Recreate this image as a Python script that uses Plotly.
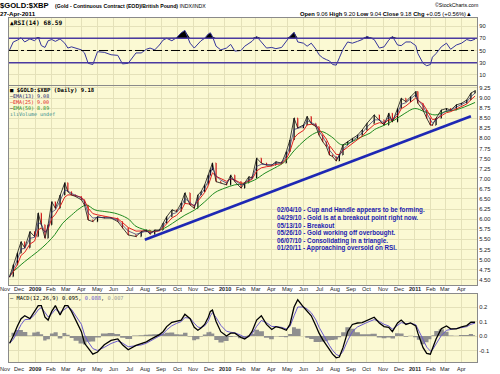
import plotly.graph_objects as go
import pandas as pd
import numpy as np

# ---------------- data ----------------
dates = ["2008-11-13","2008-11-20","2008-11-28","2008-12-05","2008-12-12","2008-12-22","2008-12-31",
         "2009-01-07","2009-01-13","2009-01-20","2009-01-26","2009-02-02","2009-02-09","2009-02-18","2009-02-27",
         "2009-03-05","2009-03-12","2009-03-20","2009-03-31","2009-04-06","2009-04-13","2009-04-22","2009-05-01",
         "2009-05-14","2009-05-27","2009-06-09","2009-06-18","2009-06-29","2009-07-14","2009-07-24","2009-08-03",
         "2009-08-10","2009-08-19","2009-08-28","2009-09-04","2009-09-11","2009-09-21","2009-09-30","2009-10-09",
         "2009-10-16","2009-10-26","2009-11-03","2009-11-10","2009-11-16","2009-11-23","2009-11-30","2009-12-04",
         "2009-12-08","2009-12-15","2009-12-24","2010-01-04","2010-01-12","2010-01-20","2010-02-01","2010-02-08",
         "2010-02-16","2010-02-22","2010-03-03","2010-03-12","2010-03-22","2010-04-01","2010-04-09","2010-04-20",
         "2010-04-29","2010-05-06","2010-05-14","2010-05-21","2010-06-01","2010-06-08","2010-06-16","2010-06-25",
         "2010-07-01","2010-07-08","2010-07-15","2010-07-21","2010-07-27","2010-08-03","2010-08-09","2010-08-16",
         "2010-08-25","2010-09-03","2010-09-13","2010-09-22","2010-10-01","2010-10-15","2010-10-25","2010-11-03",
         "2010-11-12","2010-11-19","2010-11-29","2010-12-06","2010-12-15","2010-12-24","2011-01-03","2011-01-07",
         "2011-01-17","2011-01-24","2011-01-31","2011-02-04","2011-02-11","2011-02-21","2011-03-03","2011-03-11",
         "2011-03-22","2011-04-01","2011-04-11","2011-04-19","2011-04-27"]

close = [4.58,4.87,5.16,5.44,5.29,5.69,5.57,
         6.15,5.86,5.53,5.86,6.43,6.27,6.60,6.90,
         6.68,6.60,6.56,6.48,6.35,5.98,5.94,6.06,
         6.03,6.03,5.94,5.78,5.61,5.57,5.69,5.73,
         5.63,5.73,5.73,5.90,6.06,6.23,6.19,6.40,
         6.65,6.35,6.27,6.60,6.68,6.85,7.09,7.22,
         7.39,6.93,6.90,6.85,7.09,6.93,6.77,6.90,
         7.05,7.02,7.51,7.39,7.34,7.34,7.42,7.39,
         7.67,7.96,8.50,8.26,8.33,8.54,8.37,8.29,
         8.08,7.92,7.80,7.59,7.55,7.44,7.59,7.84,
         7.92,8.00,8.08,8.21,8.37,8.58,8.46,8.33,
         8.62,8.41,8.74,8.99,8.91,9.03,9.16,8.87,
         8.70,8.50,8.33,8.33,8.50,8.70,8.74,8.70,
         8.83,8.87,8.95,9.12,9.18]

rsi = [51,64,67,71,64,69,66,
       72,58,55,66,68,65,69,62,
       54,56,54,51,46,29,27,48,
       47,43,42,28,29,46,46,52,
       54,51,59,67,70,66,71,79,
       83,62,54,60,66,70,77,79,
       73,57,51,54,60,49,50,57,
       61,65,73,64,54,55,53,55,
       66,73,80,64,62,57,62,52,
       43,38,35,33,27,26,38,52,
       64,62,65,68,73,68,54,56,
       67,73,59,58,64,64,58,45,
       29,25,27,39,45,56,62,52,
       59,62,68,66,68.59]

macd = [-0.05,0.00,0.07,0.12,0.14,0.12,0.17,
        0.21,0.21,0.13,0.11,0.17,0.21,0.145,0.21,
        0.21,0.17,0.11,0.03,-0.05,-0.08,-0.125,-0.11,
        -0.06,-0.03,-0.02,-0.06,-0.095,-0.065,-0.055,-0.04,
        -0.025,-0.01,0.01,0.03,0.065,0.095,0.10,0.11,
        0.15,0.12,0.06,0.04,0.055,0.08,0.13,0.17,
        0.18,0.10,0.03,0.00,0.02,0.02,-0.01,-0.02,
        0.00,0.03,0.11,0.14,0.08,0.045,0.065,0.055,
        0.04,0.08,0.20,0.25,0.20,0.175,0.14,0.07,
        0.02,-0.025,-0.065,-0.095,-0.125,-0.15,-0.145,-0.08,
        0.03,0.08,0.09,0.092,0.105,0.13,0.09,0.065,
        0.06,0.03,0.09,0.11,0.08,0.09,0.07,0.02,
        -0.08,-0.12,-0.125,-0.09,-0.02,0.05,0.07,0.05,
        0.05,0.063,0.072,0.095,0.095]

ema50_dates = ["2008-11-13","2008-12-12","2009-01-06","2009-01-25","2009-02-08","2009-02-23","2009-03-12",
               "2009-03-28","2009-04-10","2009-04-26","2009-05-15","2009-06-03","2009-06-22","2009-07-02",
               "2009-07-12","2009-07-31","2009-08-19","2009-09-07","2009-09-27","2009-10-16","2009-11-04",
               "2009-11-23","2009-12-13","2010-01-01","2010-01-20","2010-02-08","2010-02-27","2010-03-19",
               "2010-04-07","2010-04-26","2010-05-15","2010-06-04","2010-06-23","2010-07-06","2010-07-25",
               "2010-08-14","2010-09-02","2010-09-21","2010-10-07","2010-10-16","2010-11-04","2010-11-24",
               "2010-12-13","2011-01-01","2011-01-20","2011-02-09","2011-02-28","2011-03-19","2011-04-07",
               "2011-04-27"]
ema50 = [4.62,4.95,5.20,5.42,5.62,5.90,6.10,
         6.27,6.35,6.23,6.19,6.15,6.06,5.98,
         5.84,5.74,5.70,5.78,5.94,6.10,6.23,
         6.43,6.66,6.77,6.85,6.88,6.97,7.14,
         7.27,7.42,7.71,7.96,8.13,8.17,8.04,
         7.84,7.92,8.04,8.13,8.22,8.33,8.46,
         8.62,8.74,8.66,8.58,8.66,8.70,8.78,
         8.89]

trend_dates = ["2009-07-31", "2011-04-19"]
trend_vals = [5.49, 8.55]

notes = ["02/04/10 - Cup and Handle appears to be forming.",
         "04/29/10 - Gold is at a breakout point right now.",
         "05/13/10 - Breakout",
         "05/26/10 - Gold working off overbought.",
         "06/07/10 - Consolidating in a triangle.",
         "01/20/11 - Approaching oversold on RSI."]

tick_dates = ["2008-12-01","2009-01-01","2009-02-01","2009-03-01","2009-04-01","2009-05-01","2009-06-01",
              "2009-07-01","2009-08-01","2009-09-01","2009-10-01","2009-11-01","2009-12-01","2010-01-01",
              "2010-02-01","2010-03-01","2010-04-01","2010-05-01","2010-06-01","2010-07-01","2010-08-01",
              "2010-09-01","2010-10-01","2010-11-01","2010-12-01","2011-01-01","2011-02-01","2011-03-01",
              "2011-04-01"]
tick_text = ["Dec","<b>2009</b>","Feb","Mar","Apr","May","Jun","Jul","Aug","Sep","Oct","Nov","Dec",
             "<b>2010</b>","Feb","Mar","Apr","May","Jun","Jul","Aug","Sep","Oct","Nov","Dec","<b>2011</b>",
             "Feb","Mar","Apr"]

rsi_ticks = [10, 30, 50, 70, 90]
macd_ticks = [-0.1, 0.0, 0.1, 0.2]
macd_tick_text = ["-0.1", "0.0", "0.1", "0.2"]

# ---------------- derived indicators ----------------
s_close = pd.Series(close)
ema13 = s_close.ewm(alpha=0.6, adjust=False).mean()
ema25 = s_close.ewm(alpha=0.4, adjust=False).mean()
prev_close = s_close.shift(1).fillna(s_close.iloc[0])
bar_high = np.maximum(prev_close, s_close)
bar_low = np.minimum(prev_close, s_close)
s_macd = pd.Series(macd)
signal = s_macd.ewm(alpha=0.55, adjust=False).mean()
hist = s_macd - signal
rsi_arr = np.array(rsi, dtype=float)

W, H = 500, 374
BG = "#FBF9D3"
GRID = "#E4E1B9"
FRAME = "#8A8A8A"
LBL = "#222222"
MONO = "DejaVu Sans Mono"
SANS = "Liberation Sans"

def py(y):  # pixel row -> paper
    return 1 - y / H

def px(x):
    return x / W

fig = go.Figure()

# RSI panel
fig.add_trace(go.Scatter(x=dates, y=[70] * len(dates), mode="lines", line=dict(width=0),
                         hoverinfo="skip", showlegend=False, xaxis="x", yaxis="y"))
fig.add_trace(go.Scatter(x=dates, y=np.maximum(rsi_arr, 70), mode="lines", line=dict(width=0),
                         fill="tonexty", fillcolor="black", showlegend=False, xaxis="x", yaxis="y"))
fig.add_trace(go.Scatter(x=dates, y=rsi, mode="lines", line=dict(color="#34349A", width=1),
                         showlegend=False, xaxis="x", yaxis="y"))

# Price panel
fig.add_trace(go.Scatter(x=trend_dates, y=trend_vals, mode="lines", line=dict(color="#1E28B4", width=2.6),
                         showlegend=False, xaxis="x2", yaxis="y2"))
fig.add_trace(go.Scatter(x=ema50_dates, y=ema50, mode="lines", line=dict(color="#1F8A1F", width=1),
                         showlegend=False, xaxis="x2", yaxis="y2", line_shape="spline"))
fig.add_trace(go.Scatter(x=dates, y=ema25, mode="lines", line=dict(color="#E02020", width=1),
                         showlegend=False, xaxis="x2", yaxis="y2"))
fig.add_trace(go.Ohlc(x=dates, open=prev_close, high=bar_high, low=bar_low, close=close,
                      increasing=dict(line=dict(color="#000000", width=1.2)),
                      decreasing=dict(line=dict(color="#D01818", width=1.2)),
                      tickwidth=0.3, showlegend=False, xaxis="x2", yaxis="y2"))
fig.add_trace(go.Scatter(x=dates, y=close, mode="lines", line=dict(color="#111111", width=0.8),
                         showlegend=False, xaxis="x2", yaxis="y2"))
fig.add_trace(go.Scatter(x=dates, y=ema13, mode="lines", line=dict(color="#2A2A70", width=0.7),
                         showlegend=False, xaxis="x2", yaxis="y2"))

# MACD panel
fig.add_trace(go.Scatter(x=dates, y=hist, mode="lines", line=dict(width=0, shape="hvh"),
                         fill="tozeroy", fillcolor="#8F8F8F", showlegend=False, xaxis="x3", yaxis="y3"))
fig.add_trace(go.Scatter(x=dates, y=signal, mode="lines", line=dict(color="#6A5ACD", width=1),
                         showlegend=False, xaxis="x3", yaxis="y3"))
fig.add_trace(go.Scatter(x=dates, y=macd, mode="lines", line=dict(color="#000000", width=1.3),
                         showlegend=False, xaxis="x3", yaxis="y3"))

xrange = ["2008-11-11 19:00", "2011-04-30 17:00"]
xdom = [px(9), px(477)]
xcommon = dict(type="date", range=xrange, domain=xdom, tickvals=tick_dates, ticktext=tick_text,
               showgrid=True, gridcolor=GRID, gridwidth=1, showline=True, linecolor=FRAME,
               linewidth=1, mirror=True, ticks="", zeroline=False, showticklabels=False,
               rangeslider=dict(visible=False))
ycommon = dict(side="right", showgrid=True, gridcolor=GRID, gridwidth=1, showline=True,
               linecolor=FRAME, linewidth=1, mirror=True, ticks="", zeroline=False,
               tickfont=dict(family=SANS, size=5.8, color=LBL))

fig.update_layout(
    width=W, height=H, margin=dict(l=0, r=0, t=0, b=0),
    paper_bgcolor="white", plot_bgcolor=BG,
    xaxis=dict(xcommon, anchor="y"),
    xaxis2=dict(xcommon, anchor="y2", matches="x"),
    xaxis3=dict(xcommon, anchor="y3", matches="x"),
    yaxis=dict(ycommon, domain=[py(85), py(18)], range=[-6.6, 103.3], tickvals=rsi_ticks, anchor="x"),
    yaxis2=dict(ycommon, domain=[py(285), py(86)], range=[4.371, 9.297], tick0=4.5, dtick=0.25,
                tickformat=".2f", anchor="x2"),
    yaxis3=dict(ycommon, domain=[py(362), py(294)], range=[-0.179, 0.29], tickvals=macd_ticks,
                ticktext=macd_tick_text, anchor="x3"),
)

# RSI reference lines
fig.add_shape(type="line", xref="x domain", yref="y", x0=0, x1=1, y0=70, y1=70,
              line=dict(color="#4A3AA0", width=1.4))
fig.add_shape(type="line", xref="x domain", yref="y", x0=0, x1=1, y0=30, y1=30,
              line=dict(color="#4A3AA0", width=1.4))
fig.add_shape(type="line", xref="x domain", yref="y", x0=0, x1=1, y0=50, y1=50,
              line=dict(color="#000000", width=1, dash="dashdot"))

ann = []
def text(x, y, s, size, color="#000", family=SANS, anchor="left"):
    ann.append(dict(x=px(x), y=py(y), xref="paper", yref="paper", text=s, showarrow=False,
                    xanchor=anchor, yanchor="middle", borderpad=0, borderwidth=0,
                    font=dict(family=family, size=size, color=color)))

# header
text(0, 6, "<b>$GOLD:$XBP</b>", 7.6)
text(55, 6, "<b>(Gold - Continuous Contract (EOD)/British Pound)</b> INDX/INDX", 5.2)
text(0, 13, "<b>27-Apr-2011</b>", 6.2)
text(478, 5, "©StockCharts.com", 5.2, anchor="right")
text(472, 14, "<b>Open</b> 9.06 <b>High</b> 9.20 <b>Low</b> 9.04 <b>Close</b> 9.18 <b>Chg</b> +0.05 (+0.56%)▲",
     5.8, anchor="right")

# panel legends
text(10, 22.5, "<b>▲RSI(14) 68.59</b>", 6.2, family=MONO)
text(10, 90.5, "<b>■ $GOLD:$XBP (Daily) 9.18</b>", 5.6, family=MONO)
text(10, 96, "—<span style='color:#1a1a6e'>EMA(13) 9.08</span>", 5.0, family=MONO)
text(10, 102, "<span style='color:#E02020'>—EMA(25) 9.00</span>", 5.0, family=MONO)
text(10, 108, "—<span style='color:#1F8A1F'>EMA(50) 8.89</span>", 5.0, family=MONO)
text(10, 114, "<span style='color:#2E8B8B'>ılıVolume undef</span>", 5.0, family=MONO)
text(10, 297.5, "— MACD(12,26,9) 0.095, <span style='color:#6A5ACD'>0.088</span>, "
                "<span style='color:#999'>0.007</span>", 5.4, family=MONO)

# notes
note_rows = [210, 217.7, 225.3, 233, 240.7, 248.4]
for r, s in zip(note_rows, notes):
    text(277, r, "<b>" + s + "</b>", 6.3, color="#1B1BB0")

# month labels below price panel and below MACD panel
for row in (289, 368.5):
    for d, t in zip(tick_dates, tick_text):
        ann.append(dict(x=d, xref="x2", y=py(row), yref="paper", text=t, showarrow=False,
                        xanchor="center", yanchor="middle", borderpad=0, borderwidth=0,
                        font=dict(family=SANS, size=5.6, color=LBL)))
    # "Nov" falls just left of the plotted range
    text(4.5, row, "Nov", 5.6, color=LBL, anchor="center")

fig.update_layout(annotations=ann)
fig.write_html("out.html", config={"displayModeBar": False},
               post_script="document.body.style.margin='0';document.body.style.padding='0';")
